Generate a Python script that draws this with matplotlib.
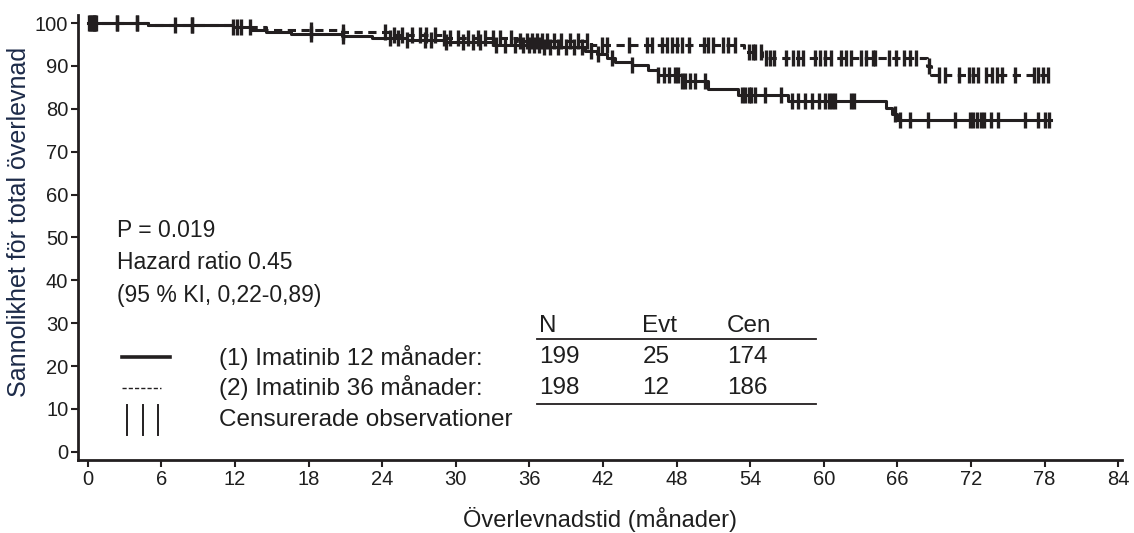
import numpy as np
import matplotlib.pyplot as plt

plt.rcParams['font.family'] = ['Liberation Sans', 'DejaVu Sans']

# Kaplan-Meier steps (months, % survival)
arm1_times = [0, 4.9, 11.8, 13.3, 14.5, 16.6, 20.7, 23.2, 26.0, 29.0, 33.0, 37.0,
              40.5, 41.5, 42.3, 43.0, 44.4, 45.7, 46.5, 48.4, 50.6, 53.0, 57.1,
              65.1, 65.6, 66.0, 78.5]
arm1_surv = [100, 99.5, 99.0, 98.5, 98.0, 97.5, 97.0, 96.5, 96.0, 95.5, 95.0, 94.4,
             93.6, 92.8, 91.8, 91.0, 90.2, 89.0, 88.0, 86.5, 84.6, 83.2, 81.9,
             80.2, 78.8, 77.4, 77.4]
arm2_times = [0, 4.9, 11.8, 14.5, 20.7, 25.0, 29.0, 35.0, 41.0, 53.5, 55.0, 68.4, 68.7, 78.4]
arm2_surv = [100, 99.5, 99.0, 98.5, 97.9, 97.2, 96.6, 95.9, 94.9, 93.3, 91.8, 90.0, 88.0, 88.0]

# censored observations (months)
arm1_cens = [0.2, 0.4, 0.6, 2.4, 4.0, 7.1, 8.5, 12.2, 13.2, 18.2, 20.8,
             24.6, 25.3, 26.0, 27.5, 28.0, 29.2, 30.6, 31.4, 32.0, 33.3, 34.0, 34.8,
             35.5, 36.0, 36.4, 36.8, 37.2, 37.7, 38.3, 39.0, 39.6, 40.3, 41.0, 41.6,
             42.7, 44.4, 46.5, 47.0, 47.4, 47.9, 48.1, 48.4, 48.7, 49.1, 49.5, 50.3,
             53.3, 53.6, 53.9, 54.1, 54.4, 55.2, 56.5, 57.4, 57.9, 58.5, 59.0, 59.6,
             60.1, 60.4, 60.7, 60.9, 62.2, 62.5,
             65.8, 66.2, 67.0, 68.5, 70.7, 71.9, 72.2, 72.5, 72.8, 73.1, 73.6, 74.2,
             76.4, 77.5, 78.0, 78.4]
arm2_cens = [0.1, 0.3, 0.5, 0.7, 2.4, 4.0, 8.5, 11.8, 12.5, 18.2, 20.8,
             24.2, 25.0, 25.6, 26.4, 27.1, 27.6, 28.3, 29.0, 29.5, 30.2, 31.0, 31.8,
             32.4, 33.0, 33.6, 34.5, 35.2, 35.8, 36.2, 36.6, 37.0, 37.4, 38.0, 38.6,
             39.3, 40.0, 40.7, 41.9, 42.3, 44.1, 45.6, 46.0, 46.8, 47.2, 47.6, 48.0,
             48.4, 49.0, 50.2, 50.6, 51.0, 51.8, 52.2, 52.8, 53.9, 54.2, 54.4, 54.9,
             55.3, 55.6, 55.9, 56.9, 57.5, 57.9, 58.3, 59.3, 59.7, 60.1, 60.6, 61.4,
             61.8, 62.2, 63.0, 63.4, 64.0, 64.2, 65.3, 65.9, 66.5, 67.0, 67.5, 68.6,
             69.4, 69.9, 71.0, 71.8, 72.2, 72.6, 73.2, 73.7, 74.1, 74.5, 75.6, 77.1,
             77.5, 77.9, 78.3]

table_header = ['N', 'Evt', 'Cen']
arm_labels = ['(1) Imatinib 12 månader:', '(2) Imatinib 36 månader:']
arm_counts = [[199, 25, 174], [198, 12, 186]]

ink = '#231f20'
text_c = '#1e1e1e'


def surv_at(times, surv, t):
    i = np.searchsorted(times, t, side='right') - 1
    return np.array(surv)[i]


fig = plt.figure(figsize=(11.34, 5.33), dpi=100)
ax = fig.add_axes([0.0688, 0.137, 0.9205, 0.835])

ax.step(arm1_times, arm1_surv, where='post', color=ink, lw=2.2)
ax.step(arm2_times, arm2_surv, where='post', color=ink, lw=2.2, linestyle=(0, (2.7, 1.8)))
ax.plot(arm1_cens, surv_at(arm1_times, arm1_surv, arm1_cens), '|', color=ink, ms=11, mew=2.4)
ax.plot(arm2_cens, surv_at(arm2_times, arm2_surv, arm2_cens), '|', color=ink, ms=11, mew=2.4)

ax.set_xlim(-0.8, 84.3)
ax.set_ylim(-1.9, 101.9)
ax.set_xticks(range(0, 85, 6))
ax.set_yticks(range(0, 101, 10))
for s in ['top', 'right']:
    ax.spines[s].set_visible(False)
for s in ['left', 'bottom']:
    ax.spines[s].set_linewidth(2)
    ax.spines[s].set_color(ink)
ax.tick_params(direction='out', length=5, width=1.5, colors=ink, labelcolor=text_c,
               labelsize=14.5, pad=2)

ax.set_ylabel('Sannolikhet för total överlevnad', fontsize=18, color='#1c2a48')
ax.yaxis.set_label_coords(-0.045, 0.535)
ax.set_xlabel('Överlevnadstid (månader)', fontsize=17, color=text_c, labelpad=13)

# annotations
ax.text(2.4, 51.7, 'P = 0.019', fontsize=16.5, color=text_c, va='center')
ax.text(2.4, 44.1, 'Hazard ratio 0.45', fontsize=16.5, color=text_c, va='center')
ax.text(2.4, 36.4, '(95 % KI, 0,22-0,89)', fontsize=16.5, color=text_c, va='center')

# legend table
col_x = [36.8, 45.2, 52.1]
row_y = [22.1, 14.9]
for x, h in zip(col_x, table_header):
    ax.text(x, 29.4, h, fontsize=17.5, color=text_c, va='center')
for y, lab, counts in zip(row_y, arm_labels, arm_counts):
    ax.text(10.7, y, lab, fontsize=17.5, color=text_c, va='center')
    for x, c in zip(col_x, counts):
        ax.text(x, y, str(c), fontsize=17.5, color=text_c, va='center')
ax.text(10.7, 7.5, 'Censurerade observationer', fontsize=17.5, color=text_c, va='center')
ax.plot([36.6, 59.4], [26.3, 26.3], color=ink, lw=1.3)
ax.plot([36.6, 59.4], [11.2, 11.2], color=ink, lw=1.3)
ax.plot([2.8, 6.7], [22.1, 22.1], color=ink, lw=2.6)
ax.plot([2.8, 6.0], [14.9, 14.9], color=ink, lw=1.0, linestyle=(0, (3, 1.5)))
for x in [3.2, 4.5, 5.7]:
    ax.plot([x, x], [4.0, 11.0], color=ink, lw=1.4)

fig.savefig('out.png', dpi=100)
